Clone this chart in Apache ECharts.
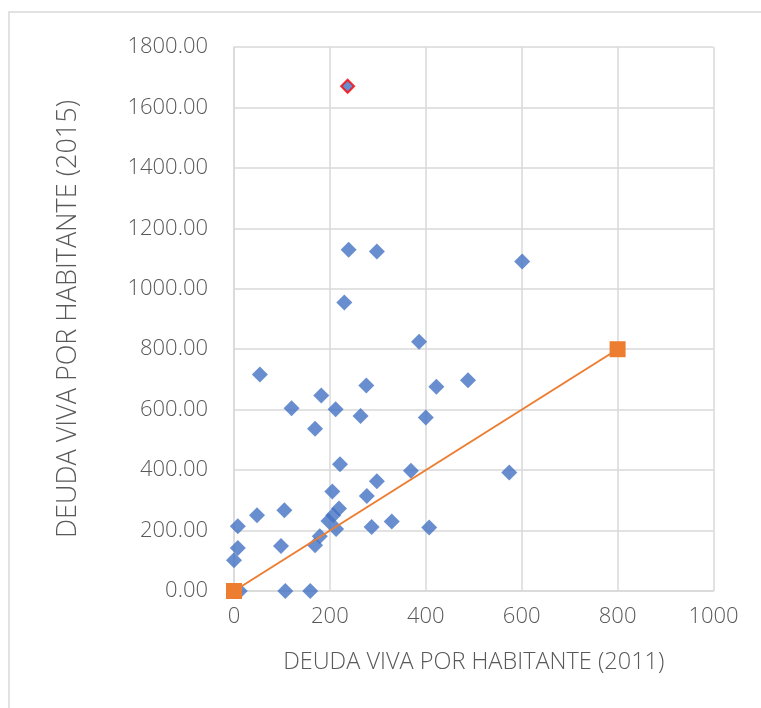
<!DOCTYPE html>
<html>
<head>
<meta charset="utf-8">
<script src="https://cdn.jsdelivr.net/npm/echarts@6/dist/echarts.min.js"></script>
<style>
  html, body { margin: 0; padding: 0; background: #fff; }
  #chart { width: 761px; height: 708px; }
</style>
</head>
<body>
<div id="chart"></div>
<script>
// deuda viva por habitante, 2011 (x) vs 2015 (y)
var deuda2011 = [237, 239, 298, 601, 230, 386, 54, 276, 422, 488, 182, 120, 212, 264, 400, 169,
  221, 369, 574, 298, 205, 277, 219, 207, 197, 213, 179, 169, 105, 48, 8, 287, 329, 407, 98, 8, 0, 107, 159, 12];
var deuda2015 = [1670, 1129, 1123, 1090, 955, 825, 716, 680, 676, 697, 647, 605, 601, 579, 574, 537,
  419, 398, 392, 363, 329, 314, 273, 251, 232, 205, 181, 151, 267, 251, 214, 212, 230, 210, 149, 142, 102, 0, 0, 0];
var destacado = 0; // punto con borde rojo

// linea de referencia y = x
var refX = [0, 800];
var refY = [0, 800];

var fuente = '"Open Sans", "Noto Sans", sans-serif';
var gris = '#595959';
var rejilla = '#d9d9d9';

var puntos = [];
for (var i = 0; i < deuda2011.length; i++) {
  var p = { value: [deuda2011[i], deuda2015[i]] };
  if (i === destacado) {
    p.itemStyle = { borderColor: '#ff0000', borderWidth: 2 };
    p.symbolSize = 13;
  }
  puntos.push(p);
}
var linea = [];
for (var j = 0; j < refX.length; j++) {
  linea.push([refX[j], refY[j]]);
}

var chart = echarts.init(document.getElementById('chart'));
var option = {
  animation: false,
  backgroundColor: '#fff',
  graphic: [{
    type: 'rect',
    shape: { x: 9, y: 12, width: 800, height: 800 },
    style: { fill: 'none', stroke: rejilla, lineWidth: 1.5 },
    silent: true
  }],
  grid: { left: 234, right: 47.5, top: 47, bottom: 117 },
  xAxis: {
    type: 'value',
    min: 0, max: 1000, interval: 200,
    name: 'DEUDA VIVA POR HABITANTE (2011)',
    nameLocation: 'middle',
    nameGap: 59,
    nameTextStyle: { fontFamily: fuente, fontSize: 23.5, fontWeight: 300, color: gris },
    axisLine: { show: true, lineStyle: { color: rejilla, width: 1.5 } },
    axisTick: { show: false },
    axisLabel: {
      fontFamily: fuente, fontSize: 22, fontWeight: 300, color: gris, margin: 15,
      formatter: function (v) { return String(v); }
    },
    splitLine: { show: true, lineStyle: { color: rejilla, width: 1.5 } }
  },
  yAxis: {
    type: 'value',
    min: 0, max: 1800, interval: 200,
    name: 'DEUDA VIVA POR HABITANTE (2015)',
    nameLocation: 'middle',
    nameGap: 152,
    nameTextStyle: { fontFamily: fuente, fontSize: 27, fontWeight: 300, color: gris },
    axisLine: { show: true, lineStyle: { color: rejilla, width: 1.5 } },
    axisTick: { show: false },
    axisLabel: {
      fontFamily: fuente, fontSize: 22, fontWeight: 300, color: gris, margin: 26,
      formatter: function (v) { return v.toFixed(2); }
    },
    splitLine: { show: true, lineStyle: { color: rejilla, width: 1.5 } }
  },
  series: [{
    type: 'scatter',
    symbol: 'diamond',
    symbolSize: 16,
    itemStyle: { color: '#4472c4' },
    data: puntos
  }, {
    type: 'line',
    symbol: 'rect',
    symbolSize: 16,
    showAllSymbol: true,
    itemStyle: { color: '#ed7d31' },
    lineStyle: { color: '#ed7d31', width: 2 },
    data: linea
  }]
};
chart.setOption(option);
</script>
</body>
</html>
